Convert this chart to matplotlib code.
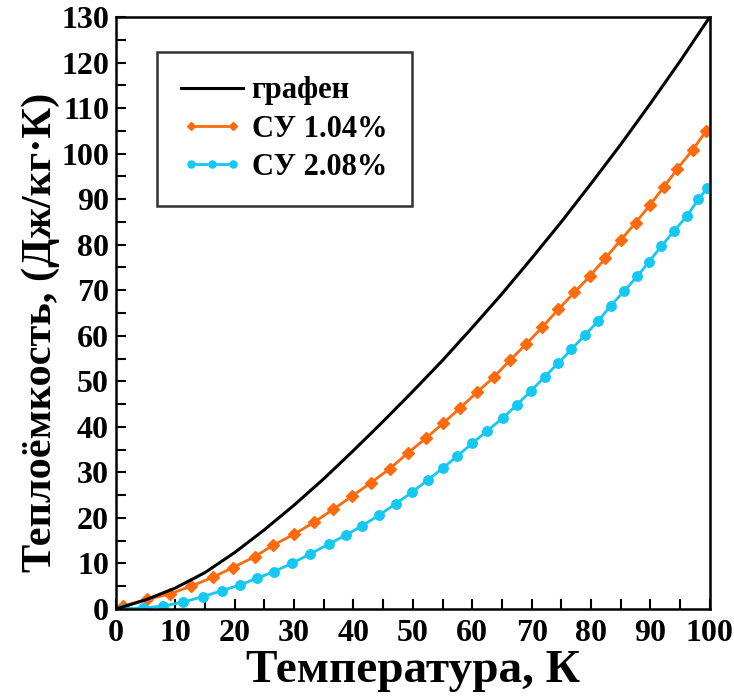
import matplotlib
matplotlib.use("Agg")
import matplotlib.pyplot as plt
from matplotlib.ticker import MultipleLocator
from matplotlib.legend_handler import HandlerLine2D

plt.rcParams['font.family'] = ['Liberation Serif', 'DejaVu Serif']
plt.rcParams['font.weight'] = 'bold'

# graphene (smooth line)
t_graphene = [0, 5, 10, 15, 20, 25, 30, 35, 40, 45, 50, 55, 60, 65, 70, 75, 80, 85, 90, 95, 100]
c_graphene = [0, 2.0, 4.6, 8.0, 12.4, 17.4, 22.8, 28.6, 34.8, 41.2, 47.8, 54.6, 61.8, 69.2, 77.0, 85.0, 93.4, 102.0, 111.0, 120.3, 130.0]

# СУ 1.04%
t_su104 = [1.2, 5.2, 9.1, 12.7, 16.3, 19.7, 23.4, 26.5, 30.0, 33.4, 36.6, 39.8, 42.9, 46.1,
           49.2, 52.2, 55.1, 58.0, 60.8, 63.7, 66.4, 69.1, 71.8, 74.5, 77.2, 79.8, 82.4, 85.0,
           87.5, 89.9, 92.3, 94.5, 97.1, 99.4]
c_su104 = [0.66, 2.1, 3.3, 5.05, 6.95, 9.1, 11.5, 14.05, 16.4, 19.1, 21.9, 24.8, 27.7, 30.8,
           34.3, 37.5, 40.8, 44.2, 47.6, 51.0, 54.7, 58.2, 61.9, 65.8, 69.5, 73.1, 77.0, 81.0,
           84.8, 88.7, 92.7, 96.6, 100.8, 105.0]

# СУ 2.08%
t_su208 = [1.2, 4.6, 8.0, 11.3, 14.6, 17.8, 20.9, 23.7, 26.6, 29.6, 32.6, 35.9, 38.7, 41.5,
           44.3, 47.1, 49.8, 52.5, 55.0, 57.5, 60.0, 62.5, 65.1, 67.5, 69.9, 72.2, 74.5, 76.7,
           79.0, 81.2, 83.3, 85.6, 87.8, 89.8, 91.8, 94.0, 96.2, 98.1, 99.6]
c_su208 = [0.05, 0.2, 0.66, 1.5, 2.7, 4.0, 5.3, 6.7, 8.2, 10.0, 12.0, 14.3, 16.2, 18.3,
           20.6, 23.1, 25.6, 28.3, 30.9, 33.6, 36.4, 39.1, 41.9, 44.8, 47.9, 51.0, 54.0, 57.0,
           60.2, 63.2, 66.6, 69.8, 73.1, 76.3, 79.6, 83.0, 86.4, 90.0, 92.4]

x_ticks = list(range(0, 101, 10))
y_ticks = list(range(0, 131, 10))

fig = plt.figure(figsize=(7.34, 6.99), dpi=100)
ax = fig.add_axes([0.158, 0.1288, 0.809, 0.8469])

l0, = ax.plot(t_graphene, c_graphene, color='black', lw=2.2, label='графен', zorder=3)
l1, = ax.plot(t_su104, c_su104, color='#FF6A0D', lw=2.0, marker='D', ms=6, label='СУ 1.04%', zorder=2)
l2, = ax.plot(t_su208, c_su208, color='#14C8F2', lw=2.0, marker='o', ms=6.8, label='СУ 2.08%', zorder=2)

ax.set_xlim(0, 100)
ax.set_ylim(0, 130)
ax.set_xticks(x_ticks)
ax.set_yticks(y_ticks)
ax.xaxis.set_minor_locator(MultipleLocator(5))
ax.yaxis.set_minor_locator(MultipleLocator(5))
ax.tick_params(which='both', direction='in', length=7, width=1.5, top=False, right=False,
               labelsize=23)
ax.tick_params(axis='x', pad=7)
ax.tick_params(axis='y', pad=5)
for lab in ax.get_xticklabels() + ax.get_yticklabels():
    lab.set_fontweight('bold')
for s in ax.spines.values():
    s.set_linewidth(1.8)

ax.set_xlabel('Температура, К', fontsize=34, fontweight='bold', labelpad=2)
ax.set_ylabel('Теплоёмкость, (Дж/кг·К)', fontsize=30.5, fontweight='bold')
ax.yaxis.set_label_coords(-0.094, 0.468)

leg = ax.legend(handles=[l0, l1, l2], loc='upper left', bbox_to_anchor=(0.069, 0.941),
                fontsize=22, frameon=True, fancybox=False, edgecolor='black',
                handlelength=2.0, borderpad=0.8, labelspacing=0.3, handletextpad=0.3,
                borderaxespad=0, markerscale=0.75,
                handler_map={l1: HandlerLine2D(numpoints=2), l2: HandlerLine2D(numpoints=3)})
leg.get_frame().set_linewidth(1.8)
for t in leg.get_texts():
    t.set_fontweight('bold')

fig.savefig('out.png', dpi=100)
